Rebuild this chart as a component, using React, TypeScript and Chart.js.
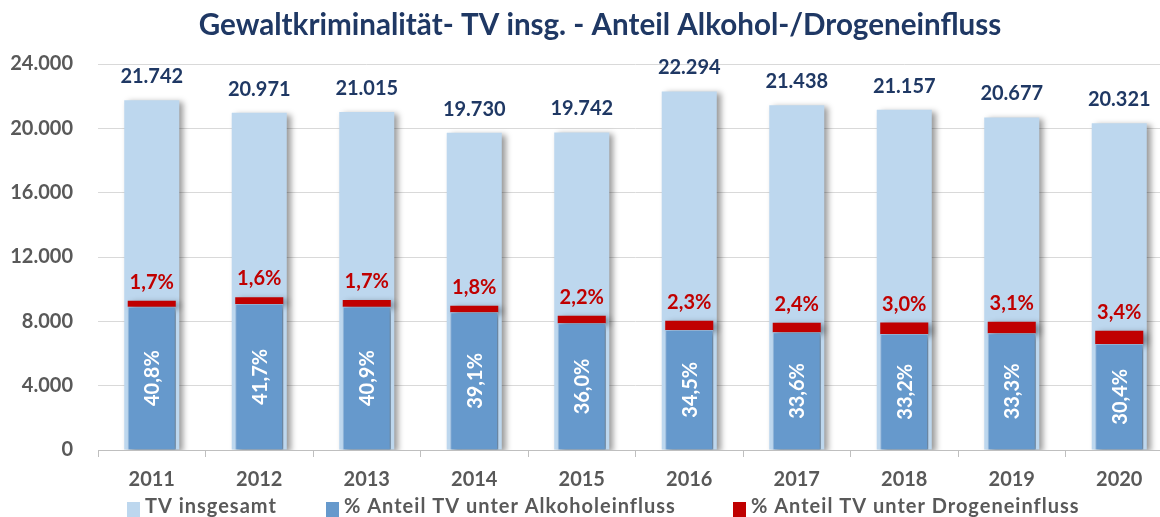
import React, { useEffect, useRef } from "react";
import { Chart, registerables } from "chart.js";

Chart.register(...registerables);

const years = ["2011", "2012", "2013", "2014", "2015", "2016", "2017", "2018", "2019", "2020"];
const totalCases = [21742, 20971, 21015, 19730, 19742, 22294, 21438, 21157, 20677, 20321];
const alcoholCases = [8910, 9080, 8910, 8560, 7875, 7460, 7315, 7215, 7255, 6590];
const drugCases = [375, 415, 415, 415, 475, 580, 600, 705, 725, 830];
const alcoholPct = ["40,8%", "41,7%", "40,9%", "39,1%", "36,0%", "34,5%", "33,6%", "33,2%", "33,3%", "30,4%"];
const drugPct = ["1,7%", "1,6%", "1,7%", "1,8%", "2,2%", "2,3%", "2,4%", "3,0%", "3,1%", "3,4%"];
const yTicks = [0, 4000, 8000, 12000, 16000, 20000, 24000];
const seriesNames = ["TV insgesamt", "% Anteil TV unter Alkoholeinfluss", "% Anteil TV unter Drogeneinfluss"];

const TITLE = "Gewaltkriminalität- TV insg. - Anteil Alkohol-/Drogeneinfluss";
const NAVY = "#1f3864";
const GRAY = "#595959";
const LIGHT = "#bdd7ee";
const DARK = "#6699cc";
const RED = "#c00000";
const FONT = "Lato";
const seriesColors = [LIGHT, DARK, RED];

const fmt = (v: number) => String(v).replace(/\B(?=(\d{3})+(?!\d))/g, ".");

const shadowPlugin = {
  id: "barShadow",
  beforeDatasetDraw(chart: any) {
    const ctx = chart.ctx;
    ctx.save();
    ctx.shadowColor = "rgba(0,0,0,0.4)";
    ctx.shadowBlur = 6;
    ctx.shadowOffsetX = 4;
    ctx.shadowOffsetY = 2;
  },
  afterDatasetDraw(chart: any) {
    chart.ctx.restore();
  },
};

const labelPlugin = {
  id: "valueLabels",
  afterDatasetsDraw(chart: any) {
    const ctx = chart.ctx;
    const mTV = chart.getDatasetMeta(0);
    const mA = chart.getDatasetMeta(1);
    const mD = chart.getDatasetMeta(2);
    ctx.save();
    ctx.textAlign = "center";
    ctx.textBaseline = "alphabetic";
    ctx.font = `bold 20px ${FONT}`;
    ctx.fillStyle = NAVY;
    mTV.data.forEach((b: any, i: number) => {
      ctx.fillText(fmt(totalCases[i]), b.x, b.y - 17);
    });
    ctx.fillStyle = RED;
    mD.data.forEach((b: any, i: number) => {
      ctx.fillText(drugPct[i], b.x, b.y - 12);
    });
    ctx.fillStyle = "#ffffff";
    mA.data.forEach((b: any, i: number) => {
      ctx.save();
      ctx.translate(b.x, (b.y + b.base) / 2);
      ctx.rotate(-Math.PI / 2);
      ctx.textBaseline = "middle";
      ctx.fillText(alcoholPct[i], 0, 1);
      ctx.restore();
    });
    ctx.restore();
  },
};

const titleLegendPlugin = {
  id: "titleLegend",
  afterDraw(chart: any) {
    const ctx = chart.ctx;
    ctx.save();
    ctx.font = `bold 29.6px ${FONT}`;
    ctx.fillStyle = NAVY;
    ctx.textAlign = "center";
    ctx.textBaseline = "middle";
    ctx.fillText(TITLE, 600, 25);

    ctx.font = `bold 20px ${FONT}`;
    ctx.textBaseline = "alphabetic";
    ctx.textAlign = "left";
    (ctx as any).letterSpacing = "1px";
    const boxStarts = [127, 326, 733];
    seriesNames.forEach((n, i) => {
      const x = boxStarts[i];
      ctx.fillStyle = seriesColors[i];
      ctx.fillRect(x, 502, 13, 17);
      ctx.fillStyle = GRAY;
      ctx.fillText(n, x + 18, 513);
    });
    ctx.restore();
  },
};

export default function App() {
  const ref = useRef<HTMLCanvasElement | null>(null);
  useEffect(() => {
    if (!ref.current) return;
    const chart = new Chart(ref.current, {
      type: "bar",
      data: {
        labels: years,
        datasets: [
          {
            label: seriesNames[0],
            data: totalCases,
            backgroundColor: LIGHT,
            xAxisID: "x",
            stack: "total",
            grouped: false,
            order: 3,
            categoryPercentage: 1,
            barPercentage: 0.512,
          },
          {
            label: seriesNames[1],
            data: alcoholCases,
            backgroundColor: DARK,
            borderColor: "#9dbfe3",
            borderWidth: 1,
            xAxisID: "x2",
            stack: "parts",
            grouped: false,
            order: 1,
            categoryPercentage: 1,
            barPercentage: 0.447,
          },
          {
            label: seriesNames[2],
            data: drugCases,
            backgroundColor: RED,
            xAxisID: "x2",
            stack: "parts",
            grouped: false,
            order: 2,
            categoryPercentage: 1,
            barPercentage: 0.447,
          },
        ],
      },
      options: {
        responsive: false,
        animation: false,
        layout: { padding: { left: 9, right: 27, top: 64, bottom: 19 } },
        plugins: {
          title: { display: false },
          legend: { display: false },
          tooltip: { enabled: false },
        },
        scales: {
          x: {
            stacked: true,
            offset: true,
            afterFit: (scale: any) => {
              scale.height = 48;
            },
            grid: {
              drawOnChartArea: false,
              drawTicks: true,
              tickLength: 7,
              color: "#bfbfbf",
              offset: true,
            },
            border: { display: true, color: "#bfbfbf" },
            ticks: { color: GRAY, font: { family: FONT, size: 20, weight: "bold" }, padding: 11 },
          },
          x2: {
            type: "category",
            stacked: true,
            offset: true,
            display: false,
            grid: { display: false },
          },
          y: {
            stacked: true,
            min: 0,
            max: 24000,
            afterFit: (scale: any) => {
              scale.width = 89;
            },
            afterBuildTicks: (scale: any) => {
              scale.ticks = yTicks.map((v) => ({ value: v }));
            },
            grid: { color: "#d9d9d9", drawTicks: false },
            border: { display: false },
            ticks: {
              color: GRAY,
              font: { family: FONT, size: 20, weight: "bold" },
              padding: 25,
              callback: (v: any) => fmt(Number(v)),
            },
          },
        },
      },
      plugins: [shadowPlugin, labelPlugin, titleLegendPlugin],
    });
    return () => chart.destroy();
  }, []);
  return (
    <div style={{ position: "fixed", left: 0, top: 0, width: "100vw", height: "100vh", overflow: "hidden", background: "#fff" }}>
      <canvas ref={ref} width={1200} height={517} style={{ display: "block", width: 1200, height: 517 }} />
    </div>
  );
}
